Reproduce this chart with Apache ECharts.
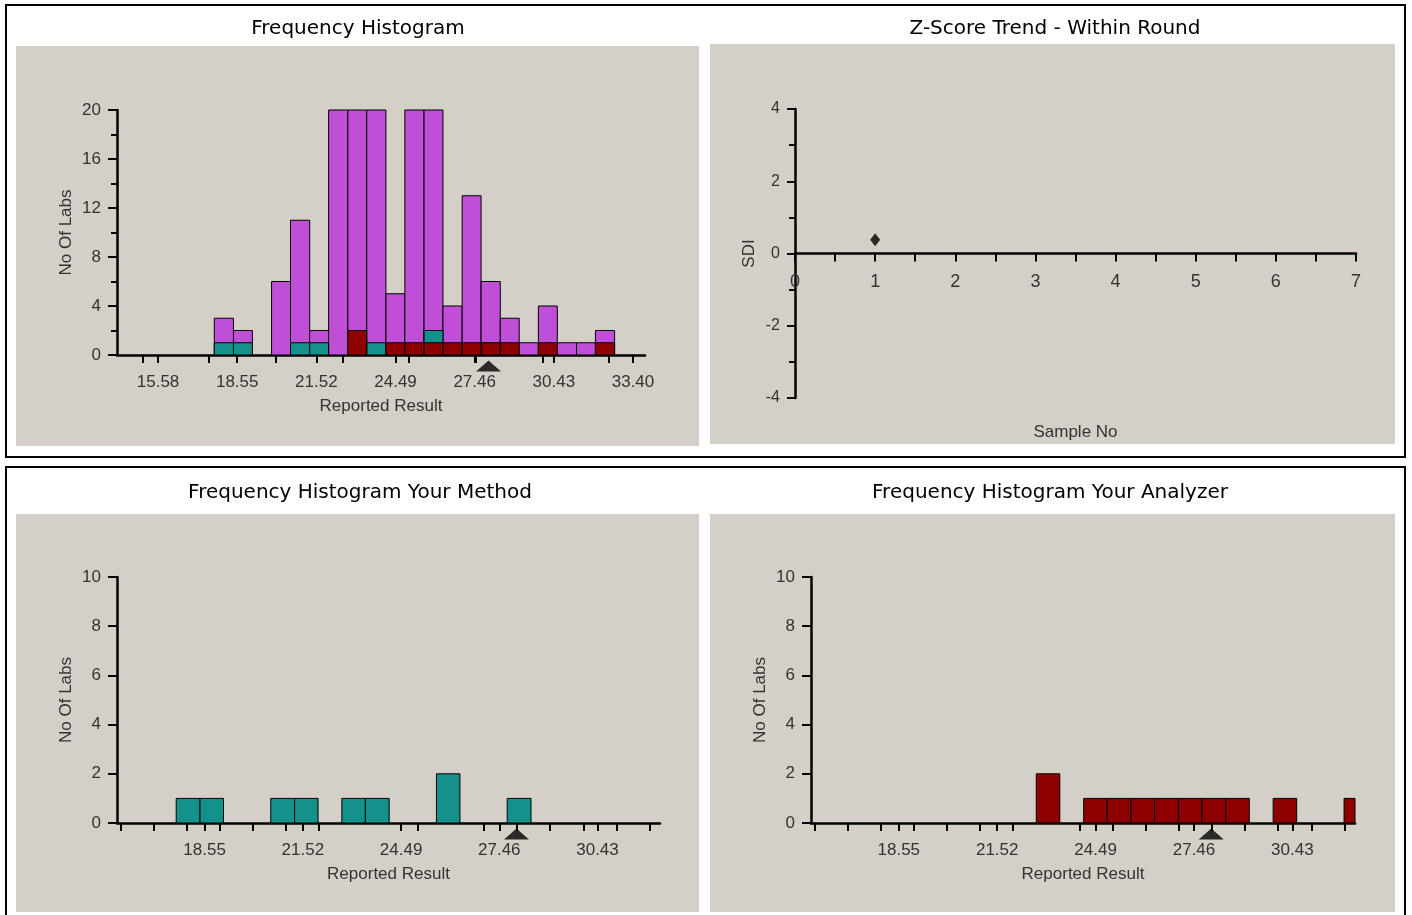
<!DOCTYPE html>
<html>
<head>
<meta charset="utf-8">
<script src="https://cdn.jsdelivr.net/npm/echarts@6/dist/echarts.min.js"></script>
<style>
html,body{margin:0;padding:0;background:#fff;}
#chart{width:1412px;height:915px;}
</style>
</head>
<body>
<div id="chart"></div>
<script>
// ---------- data ----------
// lower/upper edges of the histogram bins (Reported Result)
const binEdges = [17.69, 18.41, 19.12, 19.84, 20.55, 21.27, 21.98, 22.70, 23.41, 24.13, 24.84,
                  25.56, 26.27, 26.99, 27.70, 28.42, 29.13, 29.85, 30.56, 31.28, 31.99, 32.71];
// No Of Labs per bin
const allLabs      = [3, 2, 0, 6, 11, 2, 20, 20, 20, 5, 20, 20, 4, 13, 6, 3, 1, 4, 1, 1, 2];
const methodLabs   = [1, 1, 0, 0, 1, 1, 0, 1, 1, 0, 0, 2, 0, 0, 1, 0, 0, 0, 0, 0, 0];
const analyzerLabs = [0, 0, 0, 0, 0, 0, 0, 2, 0, 1, 1, 1, 1, 1, 1, 1, 0, 1, 0, 0, 1];
// your reported result (triangle marker)
const yourResult = 27.98;
// Z-score trend
const sampleNo  = [1];
const sdiValues = [0.38];
// tick labels / tick positions
const histLabelValues   = [15.58, 18.55, 21.52, 24.49, 27.46, 30.43, 33.40];
const histTickValues    = [15, 15.58, 17.5, 18.55, 20, 21.52, 22.5, 24.49, 25, 27.46, 27.5, 30, 30.43, 32.5, 33.40];
const subLabelValues    = [18.55, 21.52, 24.49, 27.46, 30.43];
const methodTickValues  = [16, 17, 18, 18.55, 19, 20, 21, 21.52, 22, 24.49, 25, 27, 27.46, 28, 29, 30, 30.43, 31, 32];
const analyzerTickValues= [16, 17, 18, 18.55, 19, 20, 21, 21.52, 22, 24, 24.49, 25, 26, 27, 27.46, 28, 29, 30, 30.43, 31, 32];

// ---------- helpers ----------
function binData(counts) {
  const out = [];
  counts.forEach(function (c, i) {
    if (c > 0) out.push([binEdges[i], binEdges[i + 1], c]);
  });
  return out;
}
function renderBin(params, api) {
  const x0 = api.value(0), x1 = api.value(1), v = api.value(2);
  const pTop = api.coord([x0, v]);
  const pBot = api.coord([x1, 0]);
  const cs = params.coordSys;
  const shape = echarts.graphic.clipRectByRect(
    { x: pTop[0], y: pTop[1], width: pBot[0] - pTop[0], height: pBot[1] - pTop[1] },
    { x: cs.x, y: cs.y - 1, width: cs.width, height: cs.height + 1 }
  );
  if (!shape) return null;
  return { type: 'rect', shape: shape, style: { fill: api.visual('color'), stroke: '#000', lineWidth: 1 } };
}

const PURPLE = '#c04fd8', TEAL = '#13918a', DARKRED = '#8e0000';
const LABEL_FONT = 'Liberation Sans, Arial, sans-serif';
const TITLE_FONT = 'DejaVu Sans, Verdana, sans-serif';
const lineBlack = { color: '#000', width: 2 };
const labelStyle = { color: '#333', fontSize: 17, fontFamily: LABEL_FONT };
const nameStyle = { color: '#333', fontSize: 17, fontFamily: LABEL_FONT };
const titleStyle = { fontFamily: TITLE_FONT, fontSize: 20, fontWeight: 'normal', color: '#000' };

function histX(gridIndex, min, max, labels, ticks) {
  return {
    type: 'value', gridIndex: gridIndex, min: min, max: max,
    name: 'Reported Result', nameLocation: 'middle', nameGap: 43, nameTextStyle: nameStyle,
    axisLine: { show: true, onZero: false, lineStyle: { color: '#000', width: 2.5 } },
    axisTick: { show: true, length: 8, lineStyle: lineBlack, customValues: ticks },
    axisLabel: Object.assign({ margin: 19, customValues: labels,
      formatter: function (v) { return Number(v).toFixed(2); } }, labelStyle),
    splitLine: { show: false }
  };
}
function histY(gridIndex, max, interval, minor) {
  return {
    type: 'value', gridIndex: gridIndex, min: 0, max: max, interval: interval,
    name: 'No Of Labs', nameLocation: 'middle', nameGap: 42, nameTextStyle: nameStyle,
    axisLine: { show: true, onZero: false, lineStyle: { color: '#000', width: 2.5 } },
    axisTick: { show: true, length: 9, lineStyle: lineBlack },
    minorTick: { show: minor, splitNumber: 2, length: 6, lineStyle: lineBlack },
    axisLabel: Object.assign({ margin: 16 }, labelStyle),
    splitLine: { show: false }, minorSplitLine: { show: false }
  };
}
function binSeries(name, counts, color, xi, yi) {
  return {
    type: 'custom', name: name, xAxisIndex: xi, yAxisIndex: yi,
    renderItem: renderBin, itemStyle: { color: color },
    encode: { x: [0, 1], y: 2 }, data: binData(counts), silent: true
  };
}
function markerSeries(xi, yi) {
  return {
    type: 'scatter', xAxisIndex: xi, yAxisIndex: yi, data: [[yourResult, 0]],
    symbol: 'triangle', symbolSize: [25, 11], symbolOffset: [0, 11], clip: false,
    itemStyle: { color: '#000' }, silent: true, z: 5
  };
}

const PANEL = '#d4d0c8';
const option = {
  backgroundColor: '#fff',
  animation: false,
  title: [
    { text: 'Frequency Histogram', left: 353, top: 14, textAlign: 'center', textStyle: titleStyle },
    { text: 'Z-Score Trend - Within Round', left: 1050, top: 14, textAlign: 'center', textStyle: titleStyle },
    { text: 'Frequency Histogram Your Method', left: 355, top: 478, textAlign: 'center', textStyle: titleStyle },
    { text: 'Frequency Histogram Your Analyzer', left: 1045, top: 478, textAlign: 'center', textStyle: titleStyle }
  ],
  graphic: [
    { type: 'rect', z: -10, silent: true, shape: { x: 6, y: 5, width: 1399, height: 452 },
      style: { fill: '#fff', stroke: '#000', lineWidth: 2 } },
    { type: 'rect', z: -10, silent: true, shape: { x: 6, y: 467, width: 1399, height: 470 },
      style: { fill: '#fff', stroke: '#000', lineWidth: 2 } },
    { type: 'rect', z: -9, silent: true, shape: { x: 16, y: 46, width: 683, height: 400 }, style: { fill: PANEL } },
    { type: 'rect', z: -9, silent: true, shape: { x: 710, y: 44, width: 685, height: 400 }, style: { fill: PANEL } },
    { type: 'rect', z: -9, silent: true, shape: { x: 16, y: 514, width: 683, height: 398 }, style: { fill: PANEL } },
    { type: 'rect', z: -9, silent: true, shape: { x: 710, y: 514, width: 685, height: 398 }, style: { fill: PANEL } }
  ],
  grid: [
    { left: 117, top: 110, width: 528, height: 245 },
    { left: 795, top: 109, width: 561, height: 289 },
    { left: 117, top: 577, width: 543, height: 246 },
    { left: 811, top: 577, width: 544, height: 246 }
  ],
  xAxis: [
    histX(0, 14.04, 33.85, histLabelValues, histTickValues),
    {
      type: 'value', gridIndex: 1, min: 0, max: 7, interval: 1, offset: -144.5,
      name: 'Sample No', nameLocation: 'middle', nameGap: 170, nameTextStyle: nameStyle,
      axisLine: { show: true, onZero: false, lineStyle: { color: '#000', width: 2.5 } },
      axisTick: { show: true, length: 8, lineStyle: lineBlack },
      minorTick: { show: true, splitNumber: 2, length: 8, lineStyle: lineBlack },
      axisLabel: { margin: 20, color: '#333', fontSize: 18, fontFamily: LABEL_FONT },
      splitLine: { show: false }, minorSplitLine: { show: false }
    },
    histX(2, 15.9, 32.32, subLabelValues, methodTickValues),
    histX(3, 15.9, 32.32, subLabelValues, analyzerTickValues)
  ],
  yAxis: [
    histY(0, 20, 4, true),
    {
      type: 'value', gridIndex: 1, min: -4, max: 4, interval: 2,
      name: 'SDI', nameLocation: 'middle', nameGap: 37, nameTextStyle: nameStyle,
      axisLine: { show: true, onZero: false, lineStyle: { color: '#000', width: 2.5 } },
      axisTick: { show: true, length: 8, lineStyle: lineBlack },
      minorTick: { show: true, splitNumber: 2, length: 6, lineStyle: lineBlack },
      axisLabel: { margin: 15, color: '#333', fontSize: 16, fontFamily: LABEL_FONT },
      splitLine: { show: false }, minorSplitLine: { show: false }
    },
    histY(2, 10, 2, false),
    histY(3, 10, 2, false)
  ],
  series: [
    binSeries('All labs', allLabs, PURPLE, 0, 0),
    binSeries('Your method', methodLabs, TEAL, 0, 0),
    binSeries('Your analyzer', analyzerLabs, DARKRED, 0, 0),
    markerSeries(0, 0),
    {
      type: 'scatter', xAxisIndex: 1, yAxisIndex: 1,
      data: sampleNo.map(function (s, i) { return [s, sdiValues[i]]; }),
      symbol: 'diamond', symbolSize: [10, 13], itemStyle: { color: '#000' }, silent: true
    },
    binSeries('Your method', methodLabs, TEAL, 2, 2),
    markerSeries(2, 2),
    binSeries('Your analyzer', analyzerLabs, DARKRED, 3, 3),
    markerSeries(3, 3)
  ]
};

const chart = echarts.init(document.getElementById('chart'), null, { renderer: 'canvas' });
chart.setOption(option);
</script>
</body>
</html>
